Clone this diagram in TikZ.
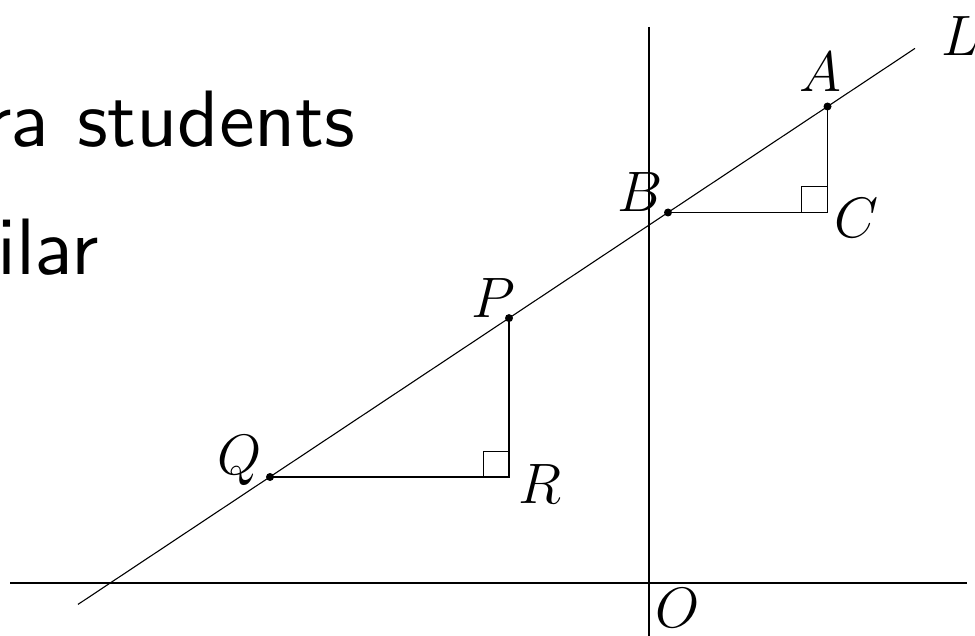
\RequirePackage{fix-cm}
\documentclass[tikz,border=0pt]{standalone}
\font\slidefont=cmss10 at 80pt
\begin{document}
\begin{tikzpicture}[x=1pt,y=-1pt,
  thinline/.style={line width=1.1pt},
  leg/.style={line width=1.8pt},
  sqline/.style={line width=1pt},
  dot/.style={circle,fill=black,inner sep=0pt,minimum size=8pt},
  lbl/.style={inner sep=0pt,font=\fontsize{57}{60}\selectfont},
  txt/.style={inner sep=0pt,anchor=base east,font=\slidefont}]
\useasboundingbox (0,0) rectangle (975,636);
\clip (0,0) rectangle (975,636);
% text
\node[txt] (t1) at (356,147) {ra students};
\node[txt] (t2) at (99,275) {ilar};
% axes
\coordinate (vtop) at (649,27);
\coordinate (vbot) at (649,640);
\coordinate (hl) at (10,583);
\coordinate (hr) at (967,583);
\draw[thinline] (vtop) -- (vbot);
\draw[thinline] (hl) -- (hr);
% line L
\coordinate (Ls) at (78,604.4);
\coordinate (Le) at (915,48.4);
\draw[thinline] (Ls) -- (Le);
% points
\coordinate (C) at (827.5,212.5);
\coordinate (R) at (509,477);
\node[dot] (A) at (827.5,106.5) {};
\node[dot] (B) at (668,212.5) {};
\node[dot] (P) at (509,318.1) {};
\node[dot] (Q) at (270,477) {};
% legs
\draw[leg] (A.center) -- (C) -- (B.center);
\draw[leg] (P.center) -- (R) -- (Q.center);
% right-angle marks
\draw[sqline] ([xshift=-26pt]C) |- ([yshift=26pt]C);
\draw[sqline] ([xshift=-26pt]R) |- ([yshift=26pt]R);
% labels
\node[lbl] (lL) at (960,36) {$L$};
\node[lbl] (lA) at (820,72) {$A$};
\node[lbl] (lB) at (640,192) {$B$};
\node[lbl] (lC) at (857,218) {$C$};
\node[lbl] (lP) at (493,298) {$P$};
\node[lbl] (lQ) at (240,461) {$Q$};
\node[lbl] (lR) at (540,484) {$R$};
\node[lbl] (lO) at (678,608) {$O$};
\end{tikzpicture}
\end{document}
